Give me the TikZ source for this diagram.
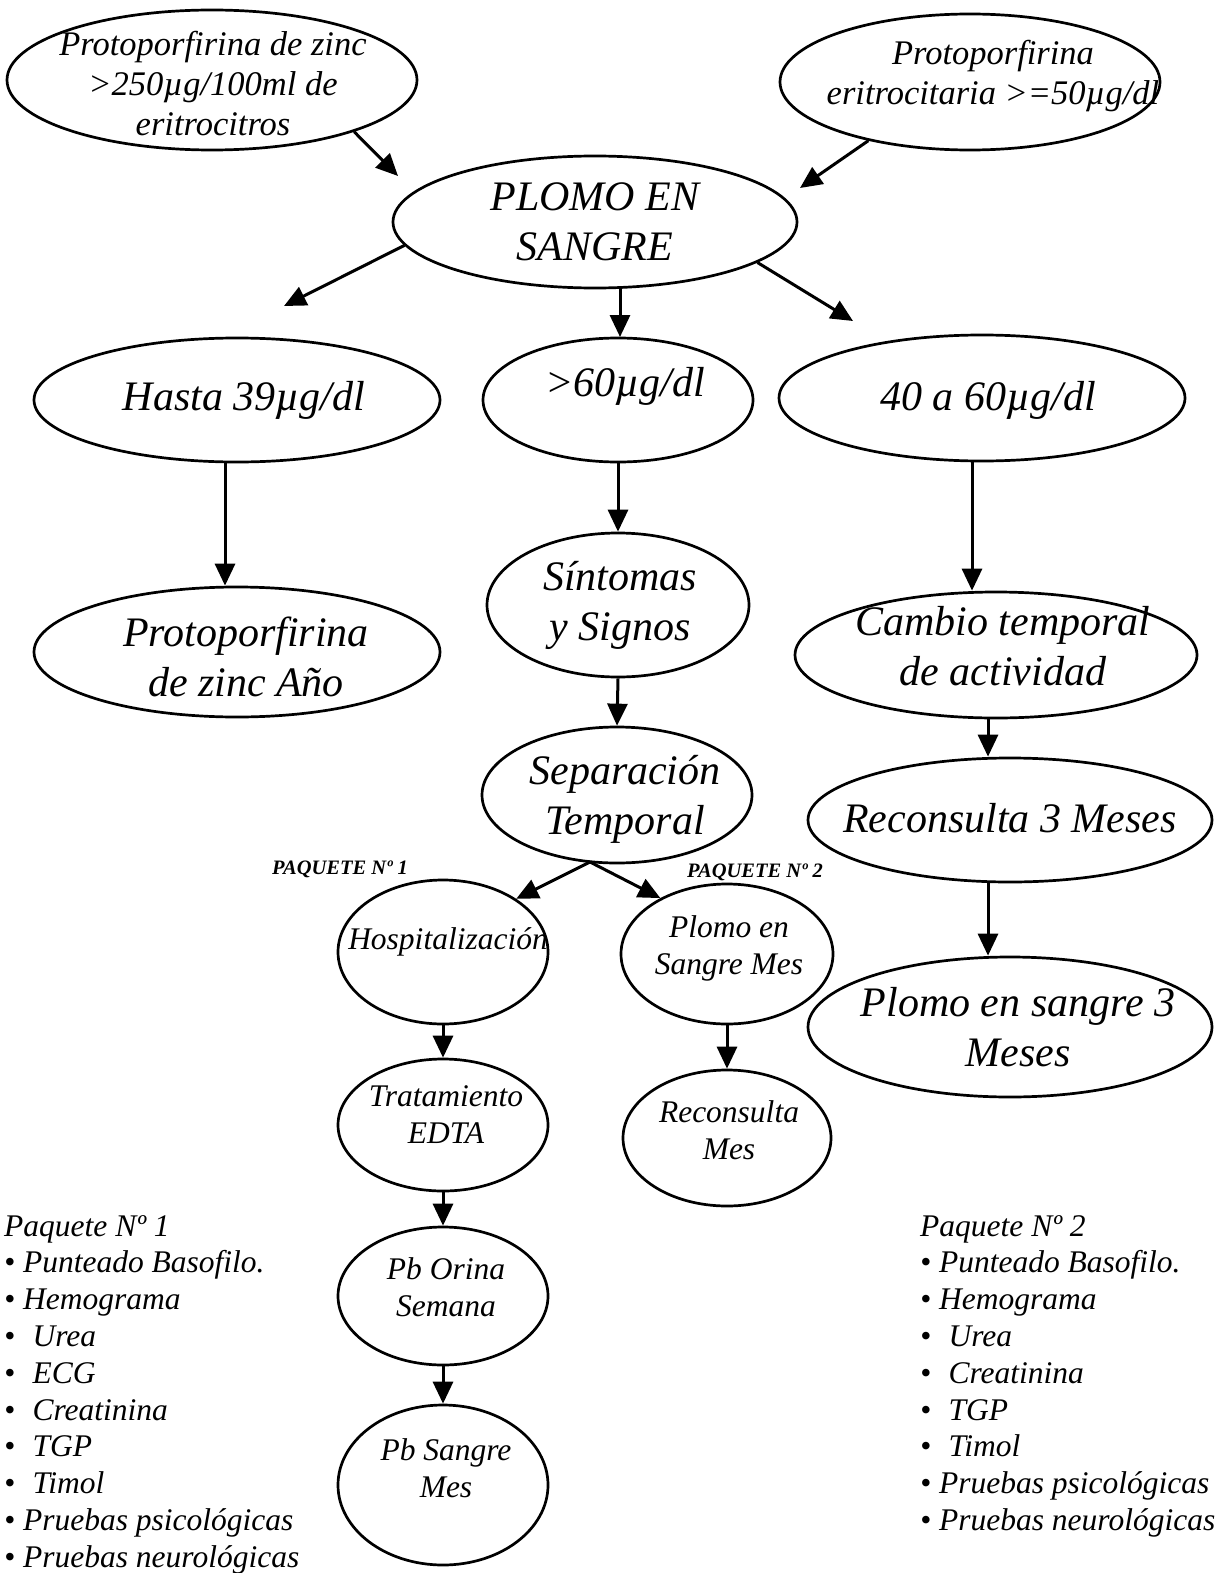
\documentclass[tikz,border=0pt]{standalone}
\usepackage{fontspec}
\setmainfont{Liberation Serif}
\usetikzlibrary{shapes.geometric,arrows.meta}
\newcommand\fs[2]{\fontsize{#1}{#2}\selectfont\itshape}
\tikzset{
  ell/.style={draw, line width=2.7pt, ellipse, inner sep=0pt},
  arr/.style={line width=3pt, -{Triangle[length=22pt,width=20pt]}},
  txt/.style={align=center, inner sep=0pt},
  big/.style={txt, font=\fs{42}{50}},
  mid/.style={txt, font=\fs{34.5}{40}},
  sml/.style={txt, font=\fs{31.5}{37}},
  lst/.style={align=left, inner sep=0pt, anchor=north west, font=\fs{31.5}{36.8}},
  pq/.style={inner sep=0pt, font=\fontsize{20.5}{22}\selectfont\bfseries\itshape}
}
\begin{document}
\begin{tikzpicture}[x=1pt,y=-1pt]
\useasboundingbox (0,0) rectangle (1229,1573);
% ellipses
\node[ell, minimum width=410pt, minimum height=140pt] (a) at (212,80) {};
\node[ell, minimum width=380pt, minimum height=136pt] (b) at (970,82) {};
\node[ell, minimum width=404pt, minimum height=132pt] (plomo) at (595,222) {};
\node[ell, minimum width=406pt, minimum height=124pt] (hasta) at (237,400) {};
\node[ell, minimum width=270pt, minimum height=124pt] (s60) at (618,400) {};
\node[ell, minimum width=406pt, minimum height=126pt] (f4060) at (982,398) {};
\node[ell, minimum width=406pt, minimum height=130pt] (pano) at (237,652) {};
\node[ell, minimum width=262pt, minimum height=144pt] (sint) at (618,605) {};
\node[ell, minimum width=270pt, minimum height=136pt] (sep) at (617,795) {};
\node[ell, minimum width=402pt, minimum height=126pt] (cambio) at (996,655) {};
\node[ell, minimum width=404pt, minimum height=124pt] (r3) at (1010,820) {};
\node[ell, minimum width=404pt, minimum height=140pt] (p3) at (1010,1027) {};
\node[ell, minimum width=210pt, minimum height=144pt] (hosp) at (443,952) {};
\node[ell, minimum width=212pt, minimum height=140pt] (pmes) at (727,954) {};
\node[ell, minimum width=210pt, minimum height=132pt] (trat) at (443,1125) {};
\node[ell, minimum width=208pt, minimum height=136pt] (rmes) at (727,1138) {};
\node[ell, minimum width=210pt, minimum height=138pt] (orina) at (443,1296) {};
\node[ell, minimum width=210pt, minimum height=160pt] (psangre) at (443,1485) {};
% texts
\node[mid] (ta) at (213,84) {Protoporfirina de zinc\\>250µg/100ml de\\eritrocitros};
\node[mid] (tb) at (993,76) {Protoporfirina\\eritrocitaria >=50µg/dl};
\node[big] (tplomo) at (595,222) {PLOMO EN\\SANGRE};
\node[big] (thasta) at (244,400) {Hasta 39µg/dl};
\node[big] (ts60) at (625,386) {>60µg/dl};
\node[big] (tf4060) at (988,400) {40 a 60µg/dl};
\node[big] (tpano) at (246,657) {Protoporfirina\\de zinc Año};
\node[big] (tsint) at (620,605) {Síntomas\\y Signos};
\node[big] (tsep) at (625,799) {Separación\\Temporal};
\node[big] (tcambio) at (1003,646) {Cambio temporal\\de actividad};
\node[big] (tr3) at (1010,818) {Reconsulta 3 Meses};
\node[big] (tp3) at (1018,1027) {Plomo en sangre 3\\Meses};
\node[sml] (thosp) at (448,942) {Hospitalización};
\node[sml] (tpmes) at (729,948) {Plomo en\\Sangre Mes};
\node[sml] (ttrat) at (446,1115) {Tratamiento\\EDTA};
\node[sml] (trmes) at (729,1130) {Reconsulta\\Mes};
\node[sml] (torina) at (446,1287) {Pb Orina\\Semana};
\node[sml] (tpsangre) at (446,1468) {Pb Sangre\\Mes};
% package labels
\node[pq] (pq1) at (340,869) {PAQUETE Nº 1};
\node[pq] (pq2) at (755,872) {PAQUETE Nº 2};
% lists
\node[lst] (l1) at (4,1215) {Paquete Nº 1\\
• Punteado Basofilo.\\
• Hemograma\\
•\hspace{0.3em} Urea\\
•\hspace{0.3em} ECG\\
•\hspace{0.3em} Creatinina\\
•\hspace{0.3em} TGP\\
•\hspace{0.3em} Timol\\
• Pruebas psicológicas\\
• Pruebas neurológicas};
\node[lst] (l2) at (920,1215) {Paquete Nº 2\\
• Punteado Basofilo.\\
• Hemograma\\
•\hspace{0.3em} Urea\\
•\hspace{0.3em} Creatinina\\
•\hspace{0.3em} TGP\\
•\hspace{0.3em} Timol\\
• Pruebas psicológicas\\
• Pruebas neurológicas};
% arrow tips (free ends)
\coordinate (t1) at (398,176);
\coordinate (t2) at (800,188);
\coordinate (t3) at (284,306);
\coordinate (t4) at (620,337);
\coordinate (t5) at (853,321);
\coordinate (fork) at (590,862);
% connectors
\draw[arr] (a.-20) -- (t1);
\draw[arr] (b.210) -- (t2);
\draw[arr] (plomo.187) -- (t3);
\draw[arr] ([xshift=25pt]plomo.south) -- (t4);
\draw[arr] (plomo.-14) -- (t5);
\draw[arr] ([xshift=-12pt]hasta.south) -- ([xshift=-12pt]pano.north);
\draw[arr] (s60.south) -- (sint.north);
\draw[arr] ([xshift=-10pt]f4060.south) -- ([xshift=-10pt]f4060.south |- cambio.north);
\draw[arr] (sint.south) -- (sep.north);
\draw[arr] ([xshift=-8pt]cambio.south) -- ([xshift=-8pt]cambio.south |- r3.north);
\draw[arr] ([xshift=-22pt]r3.south) -- ([xshift=-22pt]p3.north);
\draw[arr] (fork) -- (hosp.36);
\draw[arr] (fork) -- (pmes.140);
\draw[arr] (hosp.south) -- (trat.north);
\draw[arr] (pmes.south) -- (rmes.north);
\draw[arr] (trat.south) -- (orina.north);
\draw[arr] (orina.south) -- (psangre.north);
\end{tikzpicture}
\end{document}
